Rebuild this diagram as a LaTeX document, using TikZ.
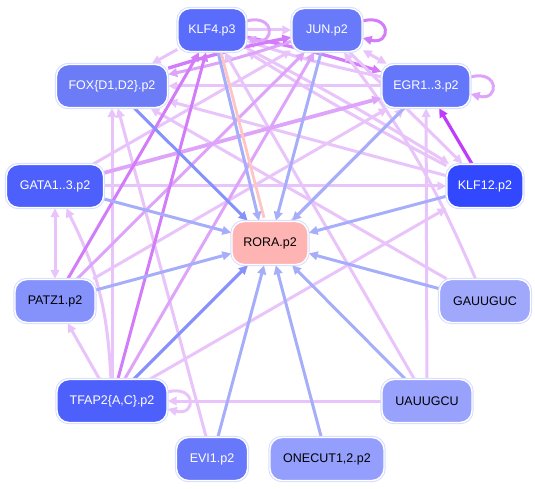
\documentclass[tikz,border=0pt]{standalone}
\usepackage{fontspec}
\setmainfont{Liberation Sans}
\usetikzlibrary{arrows.meta}
\pgfdeclarelayer{bg}
\pgfsetlayers{bg,main}
\definecolor{lp}{RGB}{233,196,250}
\definecolor{mp}{RGB}{222,164,250}
\definecolor{dp}{RGB}{210,124,250}
\definecolor{xp}{RGB}{190,60,250}
\definecolor{bl}{RGB}{166,174,250}
\definecolor{bd}{RGB}{132,146,250}
\definecolor{pk}{RGB}{255,196,196}
\definecolor{ring}{RGB}{215,220,255}
\definecolor{cKLF}{RGB}{90,108,252}
\definecolor{cJUN}{RGB}{104,122,250}
\definecolor{cFOX}{RGB}{108,124,246}
\definecolor{cEGR}{RGB}{100,118,250}
\definecolor{cGATA}{RGB}{78,96,252}
\definecolor{cKLFb}{RGB}{50,72,255}
\definecolor{cPATZ}{RGB}{134,146,252}
\definecolor{cGAU}{RGB}{160,168,252}
\definecolor{cTFAP}{RGB}{78,96,252}
\definecolor{cUAU}{RGB}{152,162,252}
\definecolor{cEVI}{RGB}{104,120,250}
\definecolor{cONE}{RGB}{148,158,252}
\definecolor{cRORA}{RGB}{255,180,180}
\tikzset{
  box/.style={rectangle, rounded corners=12pt, minimum height=43pt, inner sep=0pt,
    draw=white, line width=1.4pt, preaction={draw=ring, line width=3.4pt},
    font=\fontsize{12.5}{14}\selectfont, text=white},
  e/.style={line width=3pt, -{Triangle[length=9pt,width=8.5pt]}},
  ee/.style={line width=3pt, {Triangle[length=9pt,width=8.5pt]}-{Triangle[length=9pt,width=8.5pt]}},
}
\begin{document}
\begin{tikzpicture}[x=1pt,y=1pt]
\useasboundingbox (0,0) rectangle (535,-489);
\node[box, fill=cKLF, minimum width=68pt] (klf4) at (212,-30) {KLF4.p3};
\node[box, fill=cJUN, minimum width=70pt] (jun) at (327,-30) {JUN.p2};
\node[box, fill=cFOX, minimum width=111pt] (fox) at (112,-86) {FOX\{D1,D2\}.p2};
\node[box, fill=cEGR, minimum width=88pt] (egr) at (426,-86) {EGR1..3.p2};
\node[box, fill=cGATA, minimum width=97pt] (gata) at (55,-186) {GATA1..3.p2};
\node[box, fill=cKLFb, minimum width=76pt] (klf12) at (485,-186) {KLF12.p2};
\node[box, fill=cRORA, text=black, minimum width=76pt] (rora) at (270,-243) {RORA.p2};
\node[box, fill=cPATZ, text=black, minimum width=80pt] (patz) at (55,-301) {PATZ1.p2};
\node[box, fill=cGAU, text=black, minimum width=91pt] (gau) at (485,-301) {GAUUGUC};
\node[box, fill=cTFAP, minimum width=110pt] (tfap) at (112,-401) {TFAP2\{A,C\}.p2};
\node[box, fill=cUAU, text=black, minimum width=90pt] (uau) at (427,-401) {UAUUGCU};
\node[box, fill=cEVI, minimum width=71pt] (evi) at (212,-459) {EVI1.p2};
\node[box, fill=cONE, text=black, minimum width=114pt] (one) at (327,-459) {ONECUT1,2.p2};
\begin{pgfonlayer}{bg}
% purple edges
\draw[e,lp] (klf4) -- (fox);
\draw[e,lp] (klf4) -- (jun);
\draw[e,lp] (egr) to[bend left=3] (klf4);
\draw[e,dp,line width=3.2pt] (klf4) to[bend left=3] (egr);
\draw[e,lp] (klf12) to[bend left=2] (klf4);
\draw[e,lp] (klf4) to[bend left=2] (klf12);
\draw[ee,lp] (jun) -- (egr);
\draw[e,mp] (jun) to[bend left=3] (fox);
\draw[e,dp,line width=3.4pt] (fox) to[bend left=3] (jun);
\draw[e,lp] (egr) -- (fox);
\draw[e,lp] (klf12) -- (fox);
\draw[e,lp] (gau) -- (fox);
\draw[e,lp] (evi) -- (fox);
\draw[e,lp] (tfap) -- (fox);
\draw[e,lp] (gata) -- (klf12);
\draw[ee,lp] (gata) -- (patz);
\draw[e,lp] (tfap) to[bend right=12] (gata);
\draw[e,lp] (tfap) -- (patz);
\draw[e,lp] (tfap) -- (klf12);
\draw[e,lp] (uau) -- (tfap);
\draw[e,lp] (uau) -- (egr);
\draw[e,lp] (uau) -- (klf4);
\draw[e,lp] (gau) to[bend right=7] (jun);
\draw[e,lp] (jun) -- (klf12);
\draw[e,lp] (gata) -- (jun);
\draw[e,mp,line width=3.8pt] (gata) -- (egr);
\draw[e,lp] (patz) -- (egr);
\draw[e,mp] (patz) -- (jun);
\draw[e,dp] (patz) -- (klf4);
\draw[e,mp] (tfap) -- (jun);
\draw[e,lp] (tfap) -- (egr);
\draw[e,dp] (tfap) -- (klf4);
\draw[e,xp,line width=3.2pt] (klf12) -- (egr);
% self loops
\draw[e,mp] ([yshift=9pt]klf4.east) to[out=15,in=-15,looseness=4.5] ([yshift=-8pt]klf4.east);
\draw[e,dp] ([yshift=9pt]jun.east) to[out=15,in=-15,looseness=4.5] ([yshift=-8pt]jun.east);
\draw[e,mp] ([yshift=9pt]egr.east) to[out=15,in=-15,looseness=4.5] ([yshift=-8pt]egr.east);
\draw[e,lp] ([yshift=9pt]tfap.east) to[out=15,in=-15,looseness=4.5] ([yshift=-8pt]tfap.east);
% pink
\draw[pk,line width=2.8pt] ([xshift=9pt]klf4.south) -- ([xshift=-6pt,yshift=3pt]rora.north);
% blue edges into RORA
\draw[e,bl] ([xshift=6pt]klf4.south) -- ([xshift=-11pt]rora.north);
\draw[e,bd] (fox) -- (rora);
\draw[e,bl] (gata) -- (rora);
\draw[e,bl] (jun) -- (rora);
\draw[e,bl] (egr) -- (rora);
\draw[e,bl] (klf12) -- (rora);
\draw[e,bl] (patz) -- (rora);
\draw[e,bl] (gau) -- (rora);
\draw[e,bd] (tfap) -- (rora);
\draw[e,bl] (uau) -- (rora);
\draw[e,bl] (evi) -- (rora);
\draw[e,bl] (one) -- (rora);
\end{pgfonlayer}
\end{tikzpicture}
\end{document}
